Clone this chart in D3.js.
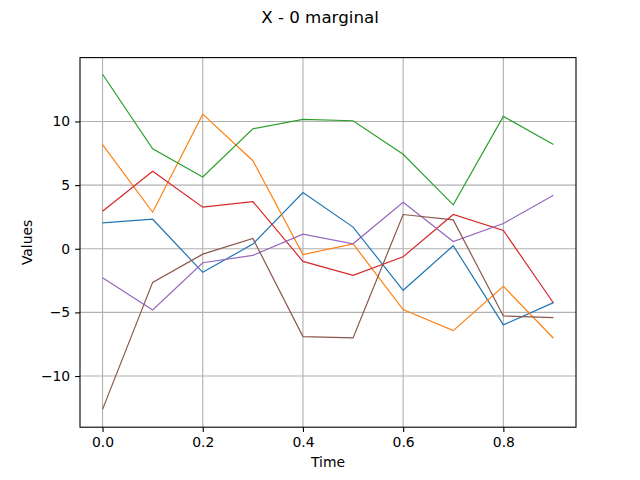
<!DOCTYPE html>
<html>
<head>
<meta charset="utf-8">
<script src="https://cdn.jsdelivr.net/npm/d3@7"></script>
<style>
  body { margin: 0; background: #fff; }
  svg { font-family: "DejaVu Sans", sans-serif; }
</style>
</head>
<body>
<div id="main"></div>
<script>
// time grid and the six marginal paths
const times = [0.0, 0.1, 0.2, 0.3, 0.4, 0.5, 0.6, 0.7, 0.8, 0.9];
const blue   = [2.04, 2.32, -1.85, 0.37, 4.42, 1.70, -3.26, 0.24, -5.98, -4.23];
const orange = [8.18, 2.87, 10.58, 6.92, -0.45, 0.39, -4.78, -6.43, -2.95, -7.03];
const green  = [13.71, 7.86, 5.64, 9.43, 10.16, 10.06, 7.42, 3.45, 10.40, 8.20];
const red    = [2.95, 6.09, 3.27, 3.71, -0.99, -2.09, -0.63, 2.69, 1.44, -4.26];
const purple = [-2.27, -4.81, -1.10, -0.52, 1.15, 0.39, 3.66, 0.57, 1.98, 4.21];
const brown  = [-12.62, -2.64, -0.42, 0.81, -6.90, -7.00, 2.69, 2.27, -5.28, -5.41];
const seriesList = [blue, orange, green, red, purple, brown];
const colors = ['#1f77b4', '#ff7f0e', '#2ca02c', '#d62728', '#9467bd', '#8c564b'];
const xTicks = [0.0, 0.2, 0.4, 0.6, 0.8];
const yTicks = [-10, -5, 0, 5, 10];

const width = 640, height = 480;
const margin = {left: 80, right: 64, top: 57.6, bottom: 52.8};

const svg = d3.select('#main').append('svg')
  .attr('width', width).attr('height', height);

const x = d3.scaleLinear().domain([-0.045, 0.945])
  .range([margin.left, width - margin.right]);
const y = d3.scaleLinear().domain([-14.02, 15.02])
  .range([height - margin.bottom, margin.top]);

// grid
const grid = svg.append('g').attr('stroke', '#b0b0b0').attr('stroke-width', 1.1);
xTicks.forEach(t => grid.append('line')
  .attr('x1', x(t)).attr('x2', x(t)).attr('y1', y.range()[0]).attr('y2', y.range()[1]));
yTicks.forEach(t => grid.append('line')
  .attr('y1', y(t)).attr('y2', y(t)).attr('x1', x.range()[0]).attr('x2', x.range()[1]));

// lines
const line = d3.line().x((d, i) => x(times[i])).y(d => y(d));
seriesList.forEach((s, k) => {
  svg.append('path').datum(s)
    .attr('d', line).attr('fill', 'none')
    .attr('stroke', colors[k]).attr('stroke-width', 1.2);
});

// frame
svg.append('rect')
  .attr('x', margin.left).attr('y', margin.top)
  .attr('width', width - margin.left - margin.right)
  .attr('height', height - margin.top - margin.bottom)
  .attr('fill', 'none').attr('stroke', '#000').attr('stroke-width', 1.1);

// axes
const fmtY = d => d < 0 ? '\u2212' + Math.abs(d) : String(d);
const xAxis = svg.append('g')
  .attr('transform', `translate(0,${height - margin.bottom})`)
  .call(d3.axisBottom(x).tickValues(xTicks).tickFormat(d3.format('.1f')).tickSize(4.9).tickPadding(4.9));
const yAxis = svg.append('g')
  .attr('transform', `translate(${margin.left},0)`)
  .call(d3.axisLeft(y).tickValues(yTicks).tickFormat(fmtY).tickSize(4.9).tickPadding(4.9));
[xAxis, yAxis].forEach(a => {
  a.select('.domain').remove();
  a.selectAll('line').attr('stroke', '#000').attr('stroke-width', 1.1);
  a.selectAll('text').attr('font-size', 13.9).attr('fill', '#000')
    .attr('font-family', '"DejaVu Sans", sans-serif');
});

// labels
svg.append('text').text('Time')
  .attr('x', (x.range()[0] + x.range()[1]) / 2).attr('y', 467)
  .attr('text-anchor', 'middle').attr('font-size', 13.9);
svg.append('text').text('Values')
  .attr('transform', `translate(32,${(y.range()[0] + y.range()[1]) / 2}) rotate(-90)`)
  .attr('text-anchor', 'middle').attr('font-size', 13.9);
svg.append('text').text('X - 0 marginal')
  .attr('x', width / 2).attr('y', 23)
  .attr('text-anchor', 'middle').attr('font-size', 16.7);
</script>
</body>
</html>
